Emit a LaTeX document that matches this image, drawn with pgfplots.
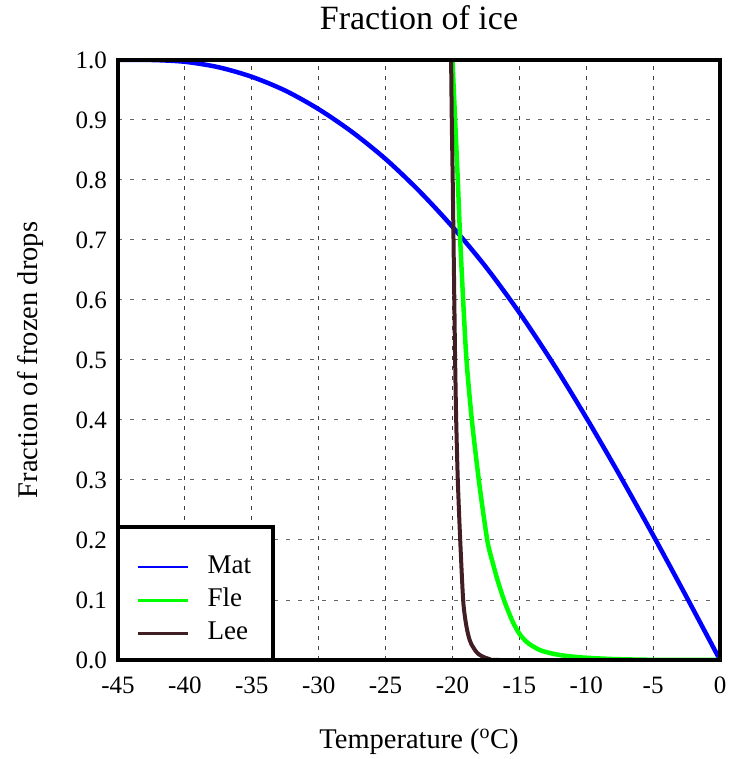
\documentclass[border=0pt]{standalone}
\usepackage{fontspec}
\setmainfont{Liberation Serif}
\usepackage{pgfplots}
\pgfplotsset{compat=1.18}
\definecolor{matblue}{RGB}{0,0,255}
\definecolor{flegreen}{RGB}{0,255,0}
\definecolor{leebrown}{RGB}{65,30,36}

\begin{document}
\begin{tikzpicture}
\begin{axis}[
    name=ax,
    scale only axis,
    width=602pt, height=600pt,
    xmin=-45, xmax=0, ymin=0, ymax=1,
    xtick={-45,-40,-35,-30,-25,-20,-15,-10,-5,0},
    xticklabels={-45,-40,-35,-30,-25,-20,-15,-10,-5,0},
    ytick={0,0.1,0.2,0.3,0.4,0.5,0.6,0.7,0.8,0.9,1},
    yticklabels={0.0,0.1,0.2,0.3,0.4,0.5,0.6,0.7,0.8,0.9,1.0},
    major tick length=0pt,
    axis line style={line width=4pt},
    grid=major,
    x grid style={black!75, line width=1pt, dash pattern=on 4pt off 6pt},
    y grid style={black!60, line width=1pt, dash pattern=on 4pt off 8pt},
    tick label style={font=\fontsize{25}{28}\selectfont, inner sep=0pt},
    xticklabel style={anchor=base, yshift=-33pt},
    yticklabel style={anchor=east, xshift=-11pt},
    title={Fraction of ice},
    title style={font=\fontsize{34}{38}\selectfont, at={(axis description cs:0.5,1.04)}, anchor=base, inner sep=0pt},
    xlabel={Temperature ($^{\mathrm{o}}$C)},
    xlabel style={font=\fontsize{28.5}{32}\selectfont, at={(axis description cs:0.5,-0.1467)}, anchor=base, inner sep=0pt},
    ylabel={Fraction of frozen drops},
    ylabel style={font=\fontsize{28.5}{32}\selectfont, at={(axis description cs:-0.1345,0.5)}, anchor=base, inner sep=0pt},
    legend cell align=left,
    legend style={at={(0,0)}, anchor=south west, draw=none, fill=none,
        font=\fontsize{27}{30}\selectfont, inner xsep=19pt, inner ysep=14pt,
        column sep=18pt, row sep=8pt,
        nodes={inner sep=0pt, text height=19pt, text depth=6pt}},
    legend image code/.code={\draw[#1] (0pt,0pt) -- (50pt,0pt);},
]
% Mat
\addplot[matblue, line width=4.5pt, smooth, forget plot] coordinates {
(-45,1.0) (-42.5,1.0) (-40,0.997) (-37.5,0.988) (-35,0.972) (-32.5,0.949)
(-30,0.918) (-27.5,0.880) (-25,0.835) (-22.5,0.782) (-20,0.722) (-17.5,0.655)
(-15,0.579) (-12.5,0.495) (-10,0.404) (-7.5,0.308) (-5,0.208) (-2.5,0.105) (0,0)
};
% Fle
\addplot[flegreen, line width=4.5pt, smooth, tension=0.45, forget plot] coordinates {
(-20.0,1.0) (-19.8,0.9) (-19.6,0.8) (-19.42,0.7) (-19.2,0.6) (-18.95,0.5)
(-18.55,0.4) (-18.0,0.295) (-17.4,0.2) (-17.0,0.163) (-16.6,0.131) (-16.1,0.097)
(-15.5,0.064) (-15.0,0.044) (-14.5,0.031) (-14.0,0.023) (-13.4,0.016)
(-12.5,0.0105) (-11.5,0.0068) (-10.5,0.0046) (-9.5,0.0031) (-8,0.0016)
(-6,0.0006) (-4,0.0001) (0,0)
};
% Lee
\addplot[leebrown, line width=4pt, smooth, tension=0.45, forget plot] coordinates {
(-20.1,1.0) (-20.05,0.9) (-19.98,0.8) (-19.92,0.7) (-19.86,0.6) (-19.8,0.5)
(-19.72,0.4) (-19.6,0.3) (-19.42,0.2) (-19.2,0.1) (-19.0,0.062) (-18.8,0.04)
(-18.6,0.027) (-18.2,0.013) (-17.85,0.007) (-17.3,0.002) (-16.5,0) (0,0)
};
\draw[black, line width=4pt] (rel axis cs:0,0) rectangle (rel axis cs:1,1);
\draw[black, line width=4pt, fill=white] (rel axis cs:0,0) rectangle (rel axis cs:0.2575,0.2217);
\addlegendimage{draw=matblue, line width=2.4pt}
\addlegendentry{Mat}
\addlegendimage{draw=flegreen, line width=2.4pt}
\addlegendentry{Fle}
\addlegendimage{draw=leebrown, line width=2.4pt}
\addlegendentry{Lee}
\end{axis}
\pgfresetboundingbox
\path[use as bounding box] ([shift={(-118pt,-99pt)}]ax.south west) rectangle ([shift={(10pt,60pt)}]ax.north east);
\end{tikzpicture}
\end{document}
